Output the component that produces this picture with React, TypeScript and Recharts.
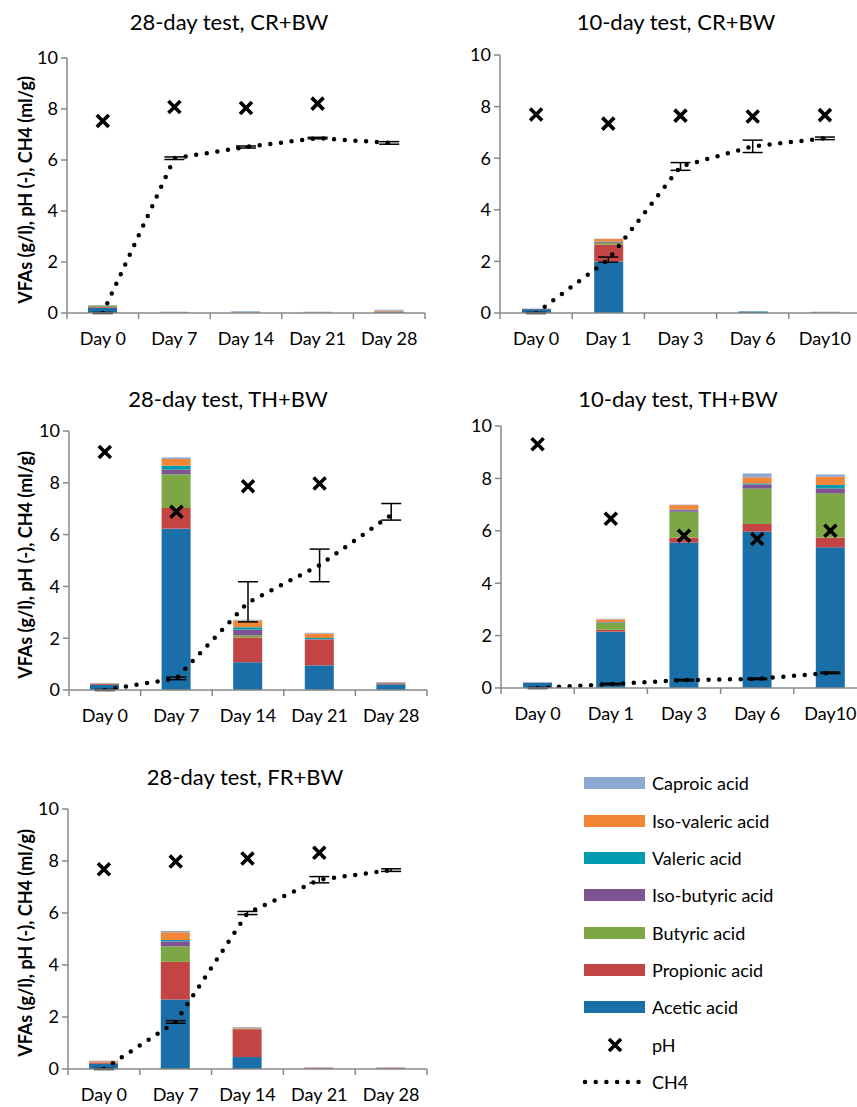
import React from 'react';
import { ComposedChart, Bar, Line, Scatter, XAxis, YAxis, ErrorBar } from 'recharts';

const FONT = 'Lato, "Open Sans", sans-serif';
const AXIS = '#898989';

const acidNames = ['Acetic acid', 'Propionic acid', 'Butyric acid', 'Iso-butyric acid', 'Valeric acid', 'Iso-valeric acid', 'Caproic acid'];
const acidKeys = ['acetic', 'propionic', 'butyric', 'isobutyric', 'valeric', 'isovaleric', 'caproic'];
const acidColors = ['#1b6fa8', '#c34543', '#7da645', '#7d5391', '#009bb0', '#f38537', '#8ea9d1'];

const days28 = ['Day 0', 'Day 7', 'Day 14', 'Day 21', 'Day 28'];
const days10 = ['Day 0', 'Day 1', 'Day 3', 'Day 6', 'Day10'];
const yTicks = [0, 2, 4, 6, 8, 10];

// rows follow acidKeys order, columns follow the days
const crLongVfa = [
  [0.2, 0, 0, 0, 0.03],
  [0.03, 0, 0, 0, 0.03],
  [0.04, 0, 0, 0, 0.01],
  [0.01, 0, 0, 0, 0],
  [0.01, 0, 0, 0, 0],
  [0.01, 0, 0, 0, 0.02],
  [0.01, 0.05, 0.07, 0.05, 0.04],
];
const crLongPh = [7.53, 8.08, 8.04, 8.21, null];
const crLongCh4 = [0, 6.07, 6.51, 6.86, 6.67];
const crLongErr = [0.02, 0.05, 0.04, 0.03, 0.05];

const crShortVfa = [
  [0.15, 2.0, 0, 0.06, 0],
  [0.01, 0.65, 0, 0, 0],
  [0, 0.07, 0, 0, 0],
  [0, 0.03, 0, 0, 0],
  [0, 0.02, 0, 0, 0],
  [0, 0.1, 0, 0, 0],
  [0.01, 0.01, 0, 0, 0.05],
];
const crShortPh = [7.69, 7.34, 7.65, 7.62, 7.67];
const crShortCh4 = [0, 2.07, 5.68, 6.46, 6.77];
const crShortErr = [0.02, 0.1, 0.15, 0.24, 0.05];

const thLongVfa = [
  [0.2, 6.23, 1.07, 0.95, 0.22],
  [0.04, 0.8, 0.96, 0.98, 0.04],
  [0.01, 1.3, 0.07, 0.02, 0.01],
  [0, 0.18, 0.24, 0.02, 0.01],
  [0, 0.15, 0.08, 0.04, 0],
  [0.01, 0.26, 0.26, 0.17, 0.01],
  [0.01, 0.06, 0.03, 0.03, 0.02],
];
const thLongPh = [9.19, 6.88, 7.87, 7.97, null];
const thLongCh4 = [0, 0.45, 3.38, 4.82, 6.76];
const thLongErr = [[0.02, 0.02], [0.05, 0.05], [0.75, 0.8], [0.64, 0.62], [0.2, 0.44]];

const thShortVfa = [
  [0.2, 2.15, 5.55, 5.97, 5.37],
  [0.01, 0.07, 0.19, 0.29, 0.37],
  [0, 0.27, 0.99, 1.35, 1.69],
  [0, 0.02, 0.06, 0.16, 0.19],
  [0, 0.01, 0.02, 0.04, 0.13],
  [0, 0.1, 0.17, 0.23, 0.31],
  [0.01, 0.02, 0.02, 0.15, 0.09],
];
const thShortPh = [9.3, 6.46, 5.81, 5.69, 6.0];
const thShortCh4 = [0, 0.15, 0.3, 0.35, 0.58];
const thShortErr = [0.02, 0.03, 0.03, 0.03, 0.03];

const frLongVfa = [
  [0.2, 2.67, 0.46, 0, 0],
  [0.05, 1.45, 1.07, 0.03, 0.03],
  [0.01, 0.6, 0.02, 0, 0],
  [0, 0.19, 0.01, 0, 0],
  [0, 0.05, 0, 0, 0],
  [0.04, 0.3, 0.02, 0.02, 0.02],
  [0.02, 0.05, 0.03, 0.02, 0.02],
];
const frLongPh = [7.68, 7.98, 8.1, 8.32, null];
const frLongCh4 = [0, 1.81, 6.0, 7.28, 7.65];
const frLongErr = [0.02, 0.05, 0.06, 0.12, 0.05];

const buildRows = (days: string[], vfa: number[][], ph: (number | null)[], ch4: number[], err: any[]) =>
  days.map((day, i) => {
    const row: any = { day, ph: ph[i], ch4: ch4[i], ch4Err: err[i] };
    acidKeys.forEach((k, j) => {
      row[k] = vfa[j][i];
    });
    return row;
  });

const XMark = (props: any) => {
  const { cx, cy } = props;
  if (cx == null || cy == null || isNaN(cy)) return null;
  const s = 6;
  return (
    <path
      d={`M${cx - s},${cy - s}L${cx + s},${cy + s}M${cx - s},${cy + s}L${cx + s},${cy - s}`}
      stroke="#000"
      strokeWidth={3.6}
    />
  );
};

const DayTick = (props: any) => {
  const { x, payload, index, bw, base, last } = props;
  return (
    <g>
      <line x1={x - bw / 2} x2={x - bw / 2} y1={base} y2={base + 6} stroke={AXIS} strokeWidth={1.5} />
      {index === last && <line x1={x + bw / 2} x2={x + bw / 2} y1={base} y2={base + 6} stroke={AXIS} strokeWidth={1.5} />}
      <text x={x} y={base + 25} textAnchor="middle" dominantBaseline="central" fontSize={18} fill="#000" fontFamily={FONT}>
        {payload.value}
      </text>
    </g>
  );
};

type PanelProps = {
  title: string;
  rows: any[];
  x0: number;
  y0: number;
  w: number;
  h: number;
  plot: { l: number; t: number; r: number; b: number };
  titleX: number;
  titleY: number;
  showLabel?: boolean;
};

const Panel = ({ title, rows, x0, y0, w, h, plot, titleX, titleY, showLabel }: PanelProps) => {
  const yw = 40;
  const xh = 40;
  const margin = { left: plot.l - x0 - yw, top: plot.t - y0, right: x0 + w - plot.r, bottom: y0 + h - plot.b - xh };
  const bw = (plot.r - plot.l) / rows.length;
  const base = plot.b - y0;
  return (
    <>
      <div
        style={{
          position: 'absolute', left: titleX - 200, top: titleY - 15, width: 400, height: 30,
          lineHeight: '30px', textAlign: 'center', fontSize: 22, fontFamily: FONT,
        }}
      >
        {title}
      </div>
      {showLabel && (
        <div
          style={{
            position: 'absolute', left: 25 - 150, top: (plot.t + plot.b) / 2 + 4 - 11, width: 300, height: 22,
            lineHeight: '22px', textAlign: 'center', fontSize: 18, fontWeight: 700, fontFamily: FONT,
            transform: 'rotate(-90deg)', whiteSpace: 'nowrap',
          }}
        >
          VFAs (g/l), pH (-), CH4 (ml/g)
        </div>
      )}
      <div style={{ position: 'absolute', left: x0, top: y0 }}>
        <ComposedChart width={w} height={h} data={rows} margin={margin}>
          <XAxis
            dataKey="day"
            height={xh}
            interval={0}
            axisLine={{ stroke: AXIS, strokeWidth: 1.5 }}
            tickLine={false}
            tick={(p: any) => <DayTick {...p} bw={bw} base={base} last={rows.length - 1} />}
          />
          <YAxis
            width={yw}
            domain={[0, 10]}
            ticks={yTicks}
            allowDataOverflow
            axisLine={{ stroke: AXIS, strokeWidth: 1.5 }}
            tickLine={{ stroke: AXIS, strokeWidth: 1.5 }}
            tickSize={6}
            tickMargin={3}
            tick={{ fill: '#000', fontSize: 18, fontFamily: FONT }}
          />
          {acidKeys.map((k, i) => (
            <Bar key={k} dataKey={k} stackId="vfa" fill={acidColors[i]} barSize={29} isAnimationActive={false} />
          ))}
          <Line
            type="linear"
            dataKey="ch4"
            stroke="#000"
            strokeWidth={4.5}
            strokeDasharray="0 10.7"
            strokeLinecap="round"
            dot={false}
            isAnimationActive={false}
          >
            <ErrorBar dataKey="ch4Err" width={10} stroke="#000" strokeWidth={1.5} direction="y" />
          </Line>
          <Scatter dataKey="ph" shape={<XMark />} isAnimationActive={false} />
        </ComposedChart>
      </div>
    </>
  );
};

const Legend = () => {
  const rowsY = [783, 821, 858, 895, 933, 970, 1007, 1045, 1082];
  const items = [...acidNames].reverse();
  const colors = [...acidColors].reverse();
  const text = (y: number, label: string) => (
    <div style={{ position: 'absolute', left: 652, top: y - 12, height: 24, lineHeight: '24px', fontSize: 18, fontFamily: FONT }}>
      {label}
    </div>
  );
  return (
    <>
      {items.map((name, i) => (
        <React.Fragment key={name}>
          <div style={{ position: 'absolute', left: 584, top: rowsY[i] - 6, width: 61, height: 12, background: colors[i] }} />
          {text(rowsY[i], name)}
        </React.Fragment>
      ))}
      <svg style={{ position: 'absolute', left: 575, top: 1030 }} width={75} height={70}>
        <path d="M34,9L46,21M34,21L46,9" stroke="#000" strokeWidth={3.6} />
        <line x1={10} x2={68} y1={52} y2={52} stroke="#000" strokeWidth={4.5} strokeDasharray="0 10.7" strokeLinecap="round" />
      </svg>
      {text(rowsY[7], 'pH')}
      {text(rowsY[8], 'CH4')}
    </>
  );
};

export default function App() {
  return (
    <div style={{ position: 'absolute', left: 0, top: 0, width: 857, height: 1107, overflow: 'hidden', background: '#fff', fontFamily: FONT }}>
      <Panel
        title="28-day test, CR+BW"
        rows={buildRows(days28, crLongVfa, crLongPh, crLongCh4, crLongErr)}
        x0={0} y0={0} w={430} h={360}
        plot={{ l: 67, t: 58, r: 425, b: 313 }}
        titleX={229} titleY={22}
        showLabel
      />
      <Panel
        title="10-day test, CR+BW"
        rows={buildRows(days10, crShortVfa, crShortPh, crShortCh4, crShortErr)}
        x0={430} y0={0} w={432} h={360}
        plot={{ l: 500, t: 55, r: 861, b: 313 }}
        titleX={676} titleY={22}
      />
      <Panel
        title="28-day test, TH+BW"
        rows={buildRows(days28, thLongVfa, thLongPh, thLongCh4, thLongErr)}
        x0={0} y0={360} w={430} h={380}
        plot={{ l: 69, t: 431, r: 427, b: 690 }}
        titleX={228} titleY={399}
        showLabel
      />
      <Panel
        title="10-day test, TH+BW"
        rows={buildRows(days10, thShortVfa, thShortPh, thShortCh4, thShortErr)}
        x0={430} y0={360} w={440} h={380}
        plot={{ l: 501, t: 426, r: 867, b: 688 }}
        titleX={678} titleY={399}
      />
      <Panel
        title="28-day test, FR+BW"
        rows={buildRows(days28, frLongVfa, frLongPh, frLongCh4, frLongErr)}
        x0={0} y0={740} w={430} h={367}
        plot={{ l: 68, t: 809, r: 427, b: 1069 }}
        titleX={245} titleY={777}
        showLabel
      />
      <Legend />
    </div>
  );
}
